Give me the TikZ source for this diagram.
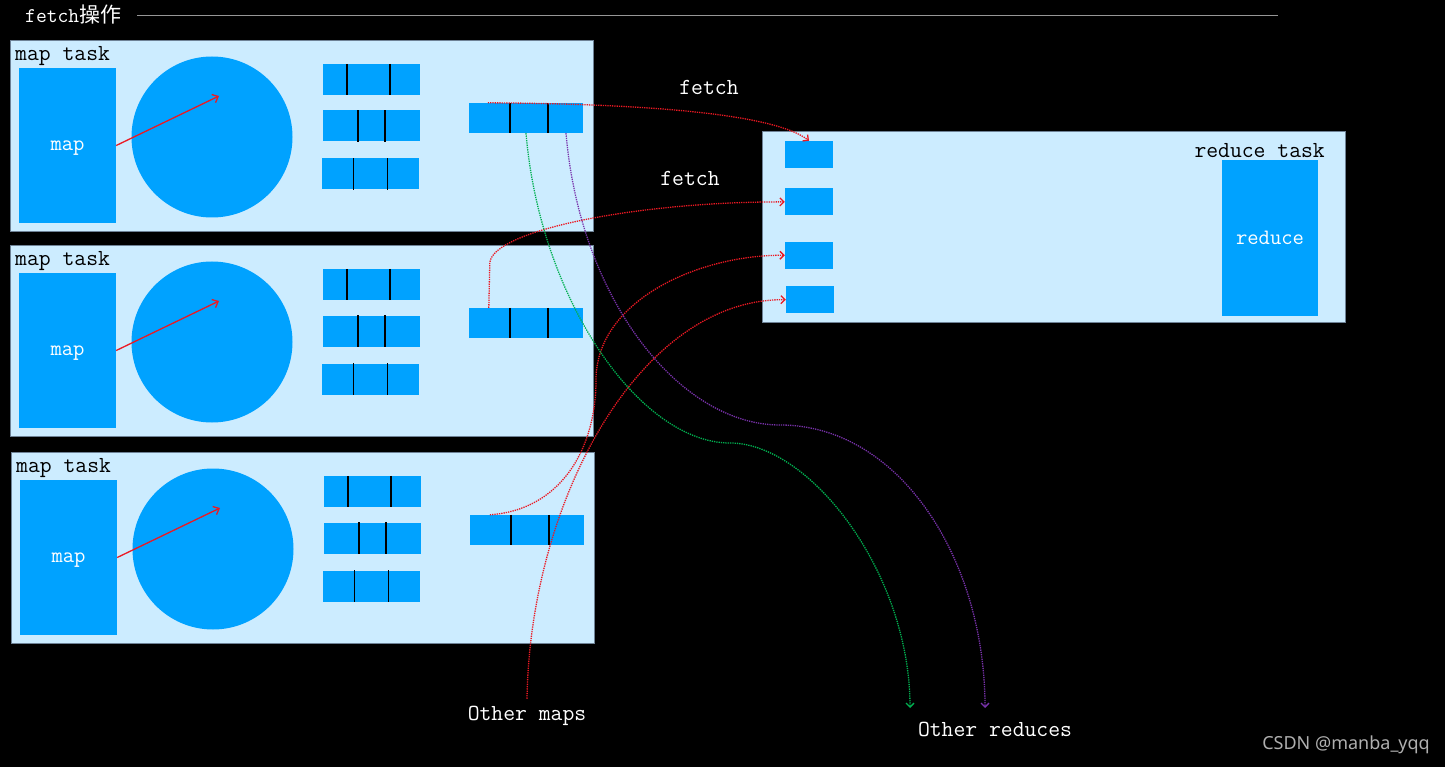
\documentclass[tikz,border=0pt]{standalone}
\usepackage{fontspec}
\newfontfamily\cjk{Noto Sans CJK SC}
\newfontfamily\markfont{Noto Sans}
\usetikzlibrary{
  positioning,
  calc,
  arrows.meta}
\definecolor{taskcolor}{RGB}{204,236,255}
\definecolor{boxcolor}{RGB}{0,162,255}
\definecolor{bordercolor}{RGB}{110,130,150}
\definecolor{rulecolor}{RGB}{150,150,150}
\definecolor{fetchcolor}{RGB}{235,25,35}
\definecolor{greenlinecolor}{RGB}{0,176,80}
\definecolor{purplelinecolor}{RGB}{120,50,170}
\definecolor{wmcolor}{RGB}{175,175,175}
\tikzset{
  %% taskbox : frame of a map or reduce task
  taskbox/.style={
    rectangle,
    fill=taskcolor,
    draw=bordercolor,
    line width=1pt,
    minimum width=583pt,
    minimum height=191pt
  },
  %% tasklabel : black text on the task frame
  tasklabel/.style={
    text=black,
    inner sep=0pt,
    font=\ttfamily\fontsize{23}{27}\selectfont
  },
  %% textlabel : white text on the background
  textlabel/.style={
    text=white,
    font=\ttfamily\fontsize{23}{27}\selectfont
  },
  %% workbox : the map or reduce function
  workbox/.style={
    rectangle,
    fill=boxcolor,
    text=white,
    text depth=0pt,
    minimum width=97pt,
    minimum height=155pt,
    font=\ttfamily\fontsize{22}{26}\selectfont
  },
  %% buffer : the circular memory buffer
  buffer/.style={
    circle,
    fill=boxcolor,
    inner sep=0pt,
    minimum size=161pt
  },
  %% spillbox : a spill file
  spillbox/.style={
    rectangle,
    fill=boxcolor,
    inner sep=0pt,
    minimum width=97pt,
    minimum height=31pt
  },
  %% mergebox : the merged map output
  mergebox/.style={
    rectangle,
    fill=boxcolor,
    inner sep=0pt,
    minimum width=114pt,
    minimum height=30pt
  },
  %% inbox : a fetched piece on the reduce side
  inbox/.style={
    rectangle,
    fill=boxcolor,
    inner sep=0pt,
    minimum width=48pt,
    minimum height=27pt
  },
  %% divider : partition line in a file
  divider/.style={black, line width=1.6pt},
  %% spill : map output written to the buffer
  spill/.style={fetchcolor, line width=1.3pt,
    -{Straight Barb[length=5pt, width=9pt]}},
  %% fetchline : copy of a partition
  fetchline/.style={fetchcolor, densely dotted, line width=1.3pt,
    -{Straight Barb[length=4pt, width=8pt]}},
  %% otherline : partitions going to other reduces
  otherline/.style={densely dotted, line width=1.3pt,
    -{Straight Barb[length=4pt, width=8pt]}},
  %% titlerule : rule next to the title
  titlerule/.style={rulecolor, line width=0.8pt},
  %% watermark : grey text in the corner
  watermark/.style={text=wmcolor, inner sep=0pt,
    font=\markfont\fontsize{18}{22}\selectfont}
}
\tikzset{
  maptask/.pic = {
    \node (-box) [taskbox, anchor=north west] at (0, 0) {};
    \node (-label) [tasklabel, anchor=west] at (5, 16) {map task};
    \node (-map) [workbox] at (57.5, 105.5) {map};
    \node (-buf) [buffer] at (202, 97) {};
    \coordinate (-tip) at (209, 56);
    \draw [spill] (-map.east) -- (-tip);
    \node (-a) [spillbox] at (361.5, 39.5) {};
    \node (-b) [spillbox] at (361.5, 86) {};
    \node (-c) [spillbox] at (360, 134) {};
    \node (-part) [mergebox] at (516, 78) {};
    \draw [divider] ([xshift=24pt]-a.north west) -- ([xshift=24pt]-a.south west);
    \draw [divider] ([xshift=67pt]-a.north west) -- ([xshift=67pt]-a.south west);
    \draw [divider] ([xshift=35pt]-b.north west) -- ([xshift=35pt]-b.south west);
    \draw [divider] ([xshift=62pt]-b.north west) -- ([xshift=62pt]-b.south west);
    \draw [divider] ([xshift=32pt]-c.north west) -- ([xshift=32pt]-c.south west);
    \draw [divider] ([xshift=66pt]-c.north west) -- ([xshift=66pt]-c.south west);
    \draw [divider] ([xshift=41pt]-part.north west) -- ([xshift=41pt]-part.south west);
    \draw [divider] ([xshift=79pt]-part.north west) -- ([xshift=79pt]-part.south west);
  }
}

\begin{document}
\begin{tikzpicture}
  [x=1pt,
  y=-1pt,
  align=center]

  \useasboundingbox (0, 0) rectangle (1445, 767);
  \fill [black] (0, 0) rectangle (1445, 767);

  %% title
  \node (title) [textlabel, inner sep=0pt, anchor=west,
    font=\ttfamily\fontsize{21}{25}\selectfont] at (25, 15) {fetch{\cjk 操作}};
  \coordinate (ruleend) at (1278, 15);
  \draw [titlerule] ([xshift=16pt]title.east) -- (ruleend);

  %% map tasks
  \pic (t1) at (10, 40) {maptask};
  \pic (t2) at (10, 245) {maptask};
  \pic (t3) at (11, 452) {maptask};

  %% reduce task
  \node (reduce) [taskbox, anchor=north west] at (762, 131) {};
  \node (reducelabel) [tasklabel, anchor=east] at (1325, 151) {reduce task};
  \node (reducer) [workbox, minimum width=96pt, minimum height=156pt]
    at (1270, 238) {reduce};

  \node (in1) [inbox] at (809, 154.5) {};
  \node (in2) [inbox, below=20pt of in1] {};
  \node (in3) [inbox, below=26pt of in2] {};
  \node (in4) [inbox, below=17pt of in3, xshift=1pt] {};

  %% labels
  \node (fetch1) [textlabel] at (709, 87) {fetch};
  \node (fetch2) [textlabel] at (690, 178) {fetch};
  \node (othermaps) [textlabel] at (527, 716) {Other maps};
  \node (otherreduces) [textlabel] at (995, 729) {Other reduces};
  \coordinate (toreduce1) at (910, 708);
  \coordinate (toreduce2) at (985, 708);

  %% Connections
  \draw [fetchline] ([xshift=19pt]t1-part.north west)
    .. controls (680, 104) and (780, 118) .. (in1.north);
  \draw [fetchline] ([xshift=20pt]t2-part.north west) -- ++(1, -45)
    .. controls +(3, -33) and (640, 201.5) .. (in2.west);
  \draw [fetchline] ([xshift=20pt]t3-part.north west)
    .. controls (560, 510) and (596, 450) .. (596, 380)
    .. controls (596, 300) and (700, 254.5) .. (in3.west);
  \draw [fetchline] ([yshift=4pt]othermaps.north)
    .. controls (530, 500) and (640, 298.5) .. (in4.west);

  \draw [otherline, greenlinecolor] (t1-part.south)
    .. controls (540, 300) and (640, 443) .. (730, 443)
    .. controls (810, 443) and (910, 573) .. (toreduce1);
  \draw [otherline, purplelinecolor] ([xshift=40pt]t1-part.south)
    .. controls (580, 300) and (680, 425) .. (780, 425)
    .. controls (900, 425) and (985, 560) .. (toreduce2);

  %% watermark
  \node (csdn) [watermark, anchor=east] at (1430, 745) {CSDN @manba\_yqq};

\end{tikzpicture}
\end{document}
